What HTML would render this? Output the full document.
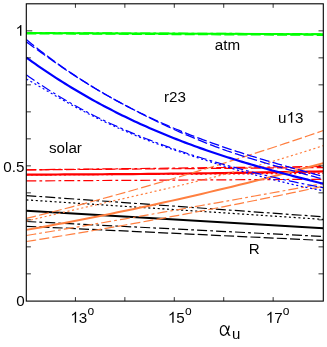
<!DOCTYPE html>
<html><head><meta charset="utf-8"><title>plot</title>
<style>html,body{margin:0;padding:0;background:#fff;}body{width:327px;height:347px;position:relative;overflow:hidden;font-family:"Liberation Sans",sans-serif;}</style>
</head><body>
<svg width="327" height="347" viewBox="0 0 327 347" style="position:absolute;left:0;top:0">
<defs><clipPath id="c"><rect x="26.30" y="3.80" width="297.00" height="297.30"/></clipPath></defs>
<g clip-path="url(#c)" fill="none" stroke-linecap="butt">
<path d="M26.30 33.00 L323.30 34.31" stroke="#00ff00" stroke-width="2.0"/>
<path d="M26.30 33.80 L323.30 35.31" stroke="#00ff00" stroke-width="1.2" stroke-dasharray="10 3.2"/>
<path d="M26.30 32.60 L323.30 33.81" stroke="#00ff00" stroke-width="1.2" stroke-dasharray="10 3.1 2.8 3.1"/>
<path d="M26.30 195.59 L323.30 216.79" stroke="#000000" stroke-width="1.2" stroke-dasharray="10 3.1 2.8 3.1"/>
<path d="M26.30 199.89 L323.30 219.39" stroke="#000000" stroke-width="1.2" stroke-dasharray="2.1 2.6"/>
<path d="M26.30 210.69 L323.30 228.18" stroke="#000000" stroke-width="1.9"/>
<path d="M26.30 221.49 L323.30 236.47" stroke="#000000" stroke-width="1.2" stroke-dasharray="10 3.1 2.8 3.1"/>
<path d="M26.30 226.29 L323.30 240.46" stroke="#000000" stroke-width="1.2" stroke-dasharray="10 3.2"/>
<path d="M26.30 169.80 L323.30 166.39" stroke="#ff0000" stroke-width="1.2" stroke-dasharray="10 3.1 2.8 3.1"/>
<path d="M26.30 169.90 L323.30 167.59" stroke="#ff0000" stroke-width="1.2" stroke-dasharray="10 3.2"/>
<path d="M26.30 174.60 L33.92 174.58 L41.53 174.56 L49.15 174.53 L56.76 174.51 L64.38 174.47 L71.99 174.44 L79.61 174.40 L87.22 174.36 L94.84 174.32 L102.45 174.27 L110.07 174.22 L117.68 174.16 L125.30 174.10 L132.92 174.04 L140.53 173.98 L148.15 173.91 L155.76 173.84 L163.38 173.76 L170.99 173.68 L178.61 173.60 L186.22 173.51 L193.84 173.42 L201.45 173.33 L209.07 173.24 L216.68 173.14 L224.30 173.03 L231.92 172.93 L239.53 172.82 L247.15 172.70 L254.76 172.59 L262.38 172.47 L269.99 172.35 L277.61 172.22 L285.22 172.09 L292.84 171.95 L300.45 171.82 L308.07 171.68 L315.68 171.53 L323.30 171.39" stroke="#ff0000" stroke-width="2.2"/>
<path d="M26.30 175.00 L323.30 173.39" stroke="#ff0000" stroke-width="1.2" stroke-dasharray="2.1 2.6"/>
<path d="M26.30 180.90 L323.30 179.29" stroke="#ff0000" stroke-width="1.2" stroke-dasharray="10 3.1 2.8 3.1"/>
<path d="M26.30 218.45 L33.92 216.56 L41.53 214.65 L49.15 212.72 L56.76 210.77 L64.38 208.80 L71.99 206.81 L79.61 204.81 L87.22 202.78 L94.84 200.74 L102.45 198.67 L110.07 196.59 L117.68 194.49 L125.30 192.37 L132.92 190.23 L140.53 188.07 L148.15 185.89 L155.76 183.70 L163.38 181.48 L170.99 179.25 L178.61 176.99 L186.22 174.72 L193.84 172.43 L201.45 170.12 L209.07 167.79 L216.68 165.44 L224.30 163.07 L231.92 160.68 L239.53 158.28 L247.15 155.85 L254.76 153.41 L262.38 150.94 L269.99 148.46 L277.61 145.96 L285.22 143.44 L292.84 140.90 L300.45 138.34 L308.07 135.76 L315.68 133.17 L323.30 130.55" stroke="#ff7f40" stroke-width="1.2" stroke-dasharray="10 3.2"/>
<path d="M26.30 221.12 L33.92 219.28 L41.53 217.46 L49.15 215.66 L56.76 213.88 L64.38 212.11 L71.99 210.34 L79.61 208.59 L87.22 206.85 L94.84 205.11 L102.45 203.38 L110.07 201.64 L117.68 199.91 L125.30 198.17 L132.92 196.43 L140.53 194.68 L148.15 192.92 L155.76 191.16 L163.38 189.38 L170.99 187.58 L178.61 185.77 L186.22 183.94 L193.84 182.09 L201.45 180.22 L209.07 178.33 L216.68 176.40 L224.30 174.45 L231.92 172.47 L239.53 170.46 L247.15 168.41 L254.76 166.33 L262.38 164.21 L269.99 162.05 L277.61 159.85 L285.22 157.60 L292.84 155.30 L300.45 152.96 L308.07 150.57 L315.68 148.13 L323.30 145.63" stroke="#ff7f40" stroke-width="1.2" stroke-dasharray="2.1 2.6"/>
<path d="M26.30 229.89 L33.92 228.53 L41.53 227.15 L49.15 225.76 L56.76 224.34 L64.38 222.91 L71.99 221.45 L79.61 219.98 L87.22 218.49 L94.84 216.98 L102.45 215.45 L110.07 213.91 L117.68 212.34 L125.30 210.76 L132.92 209.16 L140.53 207.54 L148.15 205.90 L155.76 204.25 L163.38 202.57 L170.99 200.88 L178.61 199.17 L186.22 197.44 L193.84 195.69 L201.45 193.92 L209.07 192.13 L216.68 190.33 L224.30 188.51 L231.92 186.66 L239.53 184.80 L247.15 182.93 L254.76 181.03 L262.38 179.11 L269.99 177.18 L277.61 175.23 L285.22 173.26 L292.84 171.27 L300.45 169.26 L308.07 167.23 L315.68 165.19 L323.30 163.12" stroke="#ff7f40" stroke-width="2.0"/>
<path d="M26.30 235.53 L33.92 234.27 L41.53 233.00 L49.15 231.72 L56.76 230.45 L64.38 229.17 L71.99 227.88 L79.61 226.60 L87.22 225.31 L94.84 224.01 L102.45 222.72 L110.07 221.41 L117.68 220.11 L125.30 218.80 L132.92 217.49 L140.53 216.17 L148.15 214.86 L155.76 213.53 L163.38 212.21 L170.99 210.88 L178.61 209.55 L186.22 208.21 L193.84 206.87 L201.45 205.53 L209.07 204.18 L216.68 202.83 L224.30 201.48 L231.92 200.12 L239.53 198.76 L247.15 197.40 L254.76 196.03 L262.38 194.66 L269.99 193.28 L277.61 191.90 L285.22 190.52 L292.84 189.14 L300.45 187.75 L308.07 186.36 L315.68 184.96 L323.30 183.56" stroke="#ff7f40" stroke-width="1.2" stroke-dasharray="10 3.1 2.8 3.1"/>
<path d="M26.30 241.53 L33.92 240.33 L41.53 239.11 L49.15 237.88 L56.76 236.64 L64.38 235.39 L71.99 234.13 L79.61 232.86 L87.22 231.57 L94.84 230.28 L102.45 228.97 L110.07 227.65 L117.68 226.32 L125.30 224.98 L132.92 223.63 L140.53 222.27 L148.15 220.90 L155.76 219.51 L163.38 218.11 L170.99 216.71 L178.61 215.29 L186.22 213.86 L193.84 212.42 L201.45 210.97 L209.07 209.50 L216.68 208.03 L224.30 206.55 L231.92 205.05 L239.53 203.54 L247.15 202.02 L254.76 200.49 L262.38 198.95 L269.99 197.40 L277.61 195.84 L285.22 194.26 L292.84 192.68 L300.45 191.08 L308.07 189.47 L315.68 187.85 L323.30 186.22" stroke="#ff7f40" stroke-width="1.2" stroke-dasharray="10 3.2"/>
<path d="M26.30 39.53 L29.30 41.98 L32.30 44.40 L35.30 46.79 L38.30 49.15 L41.30 51.48 L44.30 53.78 L47.30 56.05 L50.30 58.28 L53.30 60.49 L56.30 62.67 L59.30 64.82 L62.30 66.93 L65.30 69.03 L68.30 71.09 L71.30 73.12 L74.30 75.13 L77.30 77.11 L80.30 79.07 L83.30 80.99 L86.30 82.89 L89.30 84.77 L92.30 86.62 L95.30 88.44 L98.30 90.24 L101.30 92.01 L104.30 93.76 L107.30 95.49 L110.30 97.19 L113.30 98.87 L116.30 100.52 L119.30 102.15 L122.30 103.76 L125.30 105.35 L128.30 106.92 L131.30 108.46 L134.30 109.98 L137.30 111.48 L140.30 112.97 L143.30 114.43 L146.30 115.87 L149.30 117.29 L152.30 118.69 L155.30 120.07 L158.30 121.43 L161.30 122.78 L164.30 124.10 L167.30 125.41 L170.30 126.70 L173.30 127.98 L176.30 129.23 L179.30 130.47 L182.30 131.70 L185.30 132.90 L188.30 134.10 L191.30 135.27 L194.30 136.43 L197.30 137.58 L200.30 138.71 L203.30 139.83 L206.30 140.93 L209.30 142.02 L212.30 143.10 L215.30 144.16 L218.30 145.21 L221.30 146.25 L224.30 147.27 L227.30 148.29 L230.30 149.29 L233.30 150.28 L236.30 151.27 L239.30 152.24 L242.30 153.20 L245.30 154.15 L248.30 155.09 L251.30 156.02 L254.30 156.94 L257.30 157.86 L260.30 158.76 L263.30 159.66 L266.30 160.55 L269.30 161.43 L272.30 162.31 L275.30 163.18 L278.30 164.04 L281.30 164.89 L284.30 165.75 L287.30 166.59 L290.30 167.43 L293.30 168.27 L296.30 169.10 L299.30 169.92 L302.30 170.75 L305.30 171.57 L308.30 172.38 L311.30 173.20 L314.30 174.01 L317.30 174.82 L320.30 175.62 L323.30 176.43" stroke="#0000ff" stroke-width="1.3" stroke-dasharray="10 3.2"/>
<path d="M26.30 41.85 L29.30 44.01 L32.30 46.17 L35.30 48.34 L38.30 50.50 L41.30 52.65 L44.30 54.80 L47.30 56.94 L50.30 59.06 L53.30 61.17 L56.30 63.26 L59.30 65.33 L62.30 67.39 L65.30 69.42 L68.30 71.43 L71.30 73.42 L74.30 75.39 L77.30 77.34 L80.30 79.26 L83.30 81.17 L86.30 83.04 L89.30 84.90 L92.30 86.73 L95.30 88.54 L98.30 90.33 L101.30 92.09 L104.30 93.83 L107.30 95.55 L110.30 97.24 L113.30 98.91 L116.30 100.56 L119.30 102.19 L122.30 103.79 L125.30 105.38 L128.30 106.94 L131.30 108.48 L134.30 110.00 L137.30 111.57 L140.30 113.14 L143.30 114.69 L146.30 116.22 L149.30 117.72 L152.30 119.21 L155.30 120.69 L158.30 122.14 L161.30 123.57 L164.30 124.99 L167.30 126.39 L170.30 127.77 L173.30 129.13 L176.30 130.48 L179.30 131.80 L182.30 133.12 L185.30 134.41 L188.30 135.70 L191.30 136.96 L194.30 138.21 L197.30 139.45 L200.30 140.67 L203.30 141.88 L206.30 143.07 L209.30 144.25 L212.30 145.42 L215.30 146.57 L218.30 147.71 L221.30 148.84 L224.30 149.95 L227.30 150.99 L230.30 151.99 L233.30 152.98 L236.30 153.97 L239.30 154.94 L242.30 155.90 L245.30 156.85 L248.30 157.79 L251.30 158.72 L254.30 159.64 L257.30 160.56 L260.30 161.46 L263.30 162.36 L266.30 163.25 L269.30 164.13 L272.30 165.01 L275.30 165.88 L278.30 166.74 L281.30 167.59 L284.30 168.45 L287.30 169.29 L290.30 170.13 L293.30 170.97 L296.30 171.80 L299.30 172.62 L302.30 173.45 L305.30 174.27 L308.30 175.08 L311.30 175.90 L314.30 176.71 L317.30 177.52 L320.30 178.32 L323.30 179.13" stroke="#0000ff" stroke-width="1.3" stroke-dasharray="10 3.2"/>
<path d="M26.30 57.53 L29.30 59.70 L32.30 61.83 L35.30 63.95 L38.30 66.04 L41.30 68.10 L44.30 70.14 L47.30 72.16 L50.30 74.15 L53.30 76.12 L56.30 78.07 L59.30 79.99 L62.30 81.89 L65.30 83.77 L68.30 85.62 L71.30 87.46 L74.30 89.27 L77.30 91.05 L80.30 92.82 L83.30 94.57 L86.30 96.29 L89.30 97.99 L92.30 99.68 L95.30 101.34 L98.30 102.98 L101.30 104.60 L104.30 106.20 L107.30 107.78 L110.30 109.34 L113.30 110.88 L116.30 112.40 L119.30 113.91 L122.30 115.39 L125.30 116.86 L128.30 118.31 L131.30 119.73 L134.30 121.15 L137.30 122.54 L140.30 123.92 L143.30 125.27 L146.30 126.62 L149.30 127.94 L152.30 129.25 L155.30 130.54 L158.30 131.82 L161.30 133.08 L164.30 134.32 L167.30 135.55 L170.30 136.76 L173.30 137.96 L176.30 139.14 L179.30 140.31 L182.30 141.46 L185.30 142.60 L188.30 143.73 L191.30 144.84 L194.30 145.93 L197.30 147.02 L200.30 148.09 L203.30 149.15 L206.30 150.19 L209.30 151.23 L212.30 152.25 L215.30 153.26 L218.30 154.25 L221.30 155.24 L224.30 156.21 L227.30 157.18 L230.30 158.13 L233.30 159.07 L236.30 160.00 L239.30 160.93 L242.30 161.84 L245.30 162.74 L248.30 163.63 L251.30 164.52 L254.30 165.39 L257.30 166.26 L260.30 167.12 L263.30 167.97 L266.30 168.81 L269.30 169.65 L272.30 170.48 L275.30 171.30 L278.30 172.11 L281.30 172.92 L284.30 173.72 L287.30 174.51 L290.30 175.30 L293.30 176.09 L296.30 176.87 L299.30 177.64 L302.30 178.41 L305.30 179.18 L308.30 179.94 L311.30 180.70 L314.30 181.45 L317.30 182.20 L320.30 182.95 L323.30 183.69" stroke="#0000ff" stroke-width="2.2"/>
<path d="M26.30 74.84 L29.30 76.97 L32.30 79.07 L35.30 81.13 L38.30 83.16 L41.30 85.15 L44.30 87.12 L47.30 89.05 L50.30 90.95 L53.30 92.83 L56.30 94.67 L59.30 96.49 L62.30 98.27 L65.30 100.03 L68.30 101.76 L71.30 103.47 L74.30 105.15 L77.30 106.80 L80.30 108.43 L83.30 110.03 L86.30 111.61 L89.30 113.16 L92.30 114.69 L95.30 116.20 L98.30 117.69 L101.30 119.15 L104.30 120.60 L107.30 122.02 L110.30 123.42 L113.30 124.80 L116.30 126.16 L119.30 127.50 L122.30 128.82 L125.30 130.12 L128.30 131.40 L131.30 132.67 L134.30 133.92 L137.30 135.15 L140.30 136.36 L143.30 137.56 L146.30 138.74 L149.30 139.91 L152.30 141.06 L155.30 142.19 L158.30 143.31 L161.30 144.41 L164.30 145.50 L167.30 146.58 L170.30 147.64 L173.30 148.69 L176.30 149.72 L179.30 150.74 L182.30 151.75 L185.30 152.75 L188.30 153.73 L191.30 154.70 L194.30 155.66 L197.30 156.61 L200.30 157.54 L203.30 158.47 L206.30 159.38 L209.30 160.29 L212.30 161.18 L215.30 162.06 L218.30 162.93 L221.30 163.79 L224.30 164.64 L227.30 165.48 L230.30 166.31 L233.30 167.13 L236.30 167.94 L239.30 168.75 L242.30 169.54 L245.30 170.32 L248.30 171.10 L251.30 171.86 L254.30 172.62 L257.30 173.37 L260.30 174.11 L263.30 174.84 L266.30 175.56 L269.30 176.28 L272.30 176.98 L275.30 177.68 L278.30 178.37 L281.30 179.05 L284.30 179.72 L287.30 180.38 L290.30 181.04 L293.30 181.69 L296.30 182.33 L299.30 182.96 L302.30 183.58 L305.30 184.20 L308.30 184.80 L311.30 185.40 L314.30 185.99 L317.30 186.57 L320.30 187.15 L323.30 187.71" stroke="#0000ff" stroke-width="1.2" stroke-dasharray="10 3.1 2.8 3.1"/>
<path d="M26.30 78.98 L29.30 80.62 L32.30 82.31 L35.30 84.03 L38.30 85.77 L41.30 87.52 L44.30 89.27 L47.30 91.03 L50.30 92.78 L53.30 94.53 L56.30 96.26 L59.30 97.99 L62.30 99.70 L65.30 101.39 L68.30 103.07 L71.30 104.73 L74.30 106.37 L77.30 107.98 L80.30 109.58 L83.30 111.16 L86.30 112.72 L89.30 114.26 L92.30 115.77 L95.30 117.27 L98.30 118.75 L101.30 120.20 L104.30 121.64 L107.30 123.05 L110.30 124.45 L113.30 125.82 L116.30 127.18 L119.30 128.51 L122.30 129.83 L125.30 131.13 L128.30 132.42 L131.30 133.68 L134.30 134.93 L137.30 136.16 L140.30 137.37 L143.30 138.57 L146.30 139.75 L149.30 140.91 L152.30 142.06 L155.30 143.19 L158.30 144.31 L161.30 145.41 L164.30 146.50 L167.30 147.58 L170.30 148.64 L173.30 149.69 L176.30 150.72 L179.30 151.74 L182.30 152.75 L185.30 153.75 L188.30 154.73 L191.30 155.70 L194.30 156.66 L197.30 157.61 L200.30 158.55 L203.30 159.54 L206.30 160.51 L209.30 161.47 L212.30 162.42 L215.30 163.36 L218.30 164.30 L221.30 165.22 L224.30 166.13 L227.30 167.03 L230.30 167.92 L233.30 168.80 L236.30 169.67 L239.30 170.53 L242.30 171.39 L245.30 172.23 L248.30 173.06 L251.30 173.89 L254.30 174.71 L257.30 175.52 L260.30 176.31 L263.30 177.11 L266.30 177.89 L269.30 178.66 L272.30 179.43 L275.30 180.18 L278.30 180.93 L281.30 181.67 L284.30 182.41 L287.30 183.13 L290.30 183.85 L293.30 184.55 L296.30 185.25 L299.30 185.94 L302.30 186.58 L305.30 187.20 L308.30 187.80 L311.30 188.40 L314.30 188.99 L317.30 189.57 L320.30 190.15 L323.30 190.71" stroke="#0000ff" stroke-width="1.2" stroke-dasharray="2.1 2.6"/>
</g>
<g stroke="#000" fill="none">
<rect x="26.30" y="3.80" width="297.00" height="297.30" stroke-width="1.1"/>
<path d="M75.43 301.10 v-4 M75.43 3.80 v4 M124.86 301.10 v-4 M124.86 3.80 v4 M174.29 301.10 v-4 M174.29 3.80 v4 M223.72 301.10 v-4 M223.72 3.80 v4 M273.15 301.10 v-4 M273.15 3.80 v4 M26.30 273.85 h4.6 M323.30 273.85 h-4.8 M26.30 246.85 h4.6 M323.30 246.85 h-4.8 M26.30 219.85 h4.6 M323.30 219.85 h-4.8 M26.30 192.85 h4.6 M323.30 192.85 h-4.8 M26.30 165.85 h4.6 M323.30 165.85 h-4.8 M26.30 138.85 h4.6 M323.30 138.85 h-4.8 M26.30 111.85 h4.6 M323.30 111.85 h-4.8 M26.30 84.85 h4.6 M323.30 84.85 h-4.8 M26.30 57.85 h4.6 M323.30 57.85 h-4.8 M26.30 30.85 h6.0 M323.30 30.85 h-4.8" stroke-width="0.8"/>
</g>
<g font-family="Liberation Sans, sans-serif" font-size="15.2px" fill="#000" opacity="0.99">
<g transform="translate(15.55 35.80) scale(1 1.0)"><path transform="translate(0.00 0) scale(1.0133)" d="M5.75 0 V-10.75 H4.85 C4.35 -9.75 3.05 -8.65 1.65 -8.05 V-6.75 C2.6 -7.1 3.7 -7.8 4.4 -8.5 V0 Z"/></g>
<g transform="translate(3.27 171.60) scale(1 1.0)"><text x="0.00" y="0">0.5</text></g>
<g transform="translate(16.15 306.30) scale(1 1.0)"><text x="0.00" y="0">0</text></g>
<g transform="translate(214.80 50.30) scale(1 1.0)"><text x="0.00" y="0">atm</text></g>
<g transform="translate(164.00 101.70) scale(1 1.0)"><text x="0.00" y="0">r23</text></g>
<g transform="translate(278.00 122.80) scale(1 1.0)"><text x="0.00" y="0">u</text><path transform="translate(8.45 0) scale(1.0133)" d="M5.75 0 V-10.75 H4.85 C4.35 -9.75 3.05 -8.65 1.65 -8.05 V-6.75 C2.6 -7.1 3.7 -7.8 4.4 -8.5 V0 Z"/><text x="16.90" y="0">3</text></g>
<g transform="translate(49.00 153.10) scale(1 1.0)"><text x="0.00" y="0">solar</text></g>
<g transform="translate(248.70 254.10) scale(1 1.0)"><text x="0.00" y="0">R</text></g>
<g transform="translate(70.30 322.70) scale(1 1.0)"><path transform="translate(0.00 0) scale(1.0133)" d="M5.75 0 V-10.75 H4.85 C4.35 -9.75 3.05 -8.65 1.65 -8.05 V-6.75 C2.6 -7.1 3.7 -7.8 4.4 -8.5 V0 Z"/><text x="8.45" y="0">3</text><text x="17.10" y="-8.20" font-size="12px">o</text></g>
<g transform="translate(167.80 322.70) scale(1 1.0)"><path transform="translate(0.00 0) scale(1.0133)" d="M5.75 0 V-10.75 H4.85 C4.35 -9.75 3.05 -8.65 1.65 -8.05 V-6.75 C2.6 -7.1 3.7 -7.8 4.4 -8.5 V0 Z"/><text x="8.45" y="0">5</text><text x="17.10" y="-8.20" font-size="12px">o</text></g>
<g transform="translate(265.70 322.70) scale(1 1.0)"><path transform="translate(0.00 0) scale(1.0133)" d="M5.75 0 V-10.75 H4.85 C4.35 -9.75 3.05 -8.65 1.65 -8.05 V-6.75 C2.6 -7.1 3.7 -7.8 4.4 -8.5 V0 Z"/><text x="8.45" y="0">7</text><text x="17.10" y="-8.20" font-size="12px">o</text></g>
<text x="231.9" y="339.4" font-size="15px">u</text>
<path transform="translate(220 325.3)" d="M9.2 0.4 C8.6 3.5 7.4 10.0 3.6 10.0 C1.2 10.0 0.4 7.8 0.4 5.3 C0.4 2.6 1.5 0.4 3.9 0.4 C7.2 0.4 7.6 6.5 8.3 8.6 C8.7 9.8 9.5 10.2 10.2 9.6" fill="none" stroke="#000" stroke-width="1.3"/>
</g></svg>
</body></html>
